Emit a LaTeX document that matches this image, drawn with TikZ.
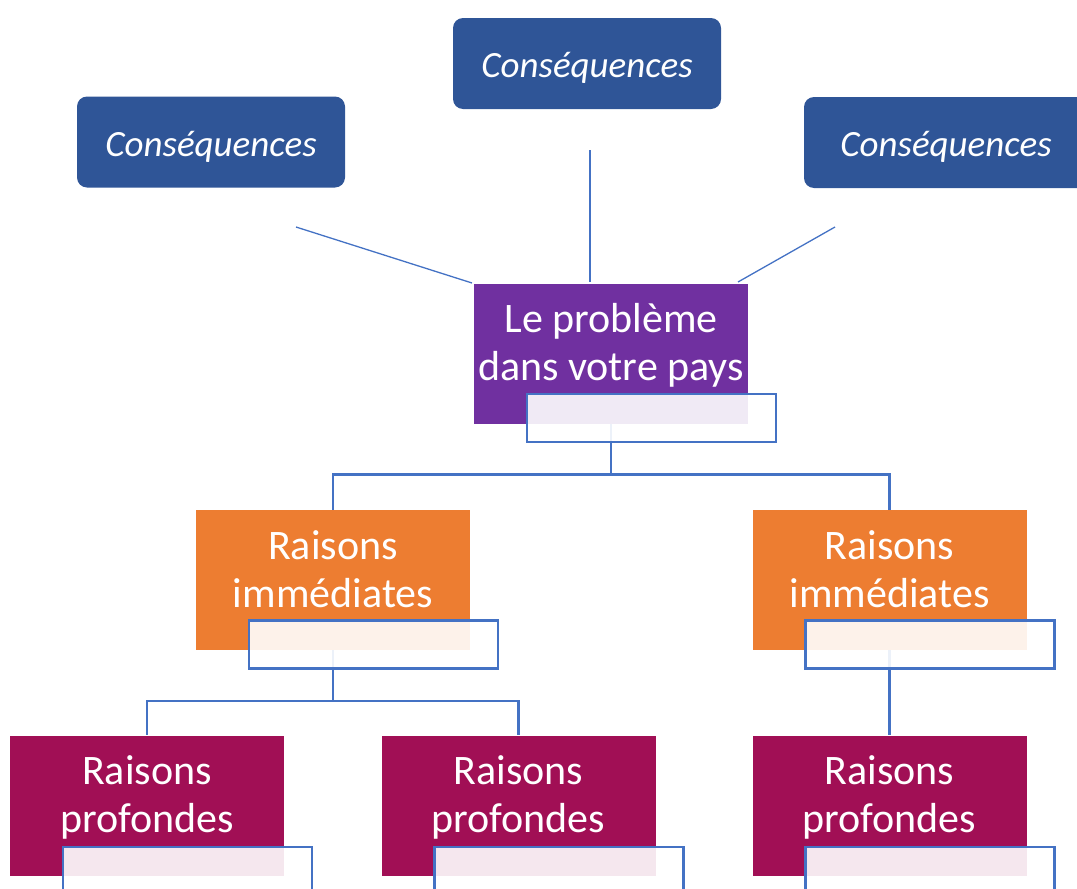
\documentclass[tikz,border=0pt]{standalone}
\usepackage{fontspec}
\setmainfont{Carlito}
\usepackage{xcolor}
\usepackage{tikz}

\definecolor{consblue}{HTML}{2F5597}
\definecolor{probpurple}{HTML}{7030A0}
\definecolor{immorange}{HTML}{ED7D31}
\definecolor{profberry}{HTML}{A10F55}
\definecolor{linkblue}{HTML}{4472C4}

\begin{document}
\begin{tikzpicture}[
    x=1pt, y=-1pt,
    conseq/.style={rectangle, fill=consblue, rounded corners=10pt, minimum width=268pt, minimum height=91pt, inner sep=0pt, text height=35pt, text depth=7pt, text=white, font=\fontsize{37}{42}\selectfont\itshape},
    level/.style={rectangle, minimum width=274pt, minimum height=140pt, inner sep=0pt, text height=64pt, text depth=10pt, text=white, align=center, font=\fontsize{42}{48}\selectfont},
    notebox/.style={rectangle, draw=linkblue, line width=2.5pt, fill=white, fill opacity=0.9, minimum width=249pt, minimum height=48pt, inner sep=0pt, anchor=north east},
    thinlink/.style={draw=linkblue, line width=1.3pt},
    elbow/.style={draw=linkblue, line width=2.5pt}
]
\useasboundingbox (0,0) rectangle (1077,889);
\clip (0,0) rectangle (1077,889);

% consequences
\node[conseq] (cons1) at (211,142) {Conséquences};
\node[conseq] (cons2) at (587,63.5) {Conséquences};
\node[conseq, minimum width=284pt] (cons3) at (946,142.5) {Conséquences};

\coordinate (c1a) at (296,227);
\coordinate (c1b) at (472,283);
\coordinate (c2a) at (590,150);
\coordinate (c2b) at (590,282);
\coordinate (c3a) at (835,227);
\coordinate (c3b) at (738,282);
\draw[thinlink] (c1a) -- (c1b);
\draw[thinlink] (c2a) -- (c2b);
\draw[thinlink] (c3a) -- (c3b);

% levels
\node[level, fill=probpurple] (prob) at (611,353.5) {Le problème\\dans votre pays};
\node[level, fill=immorange] (imm1) at (333,580) {Raisons\\immédiates};
\node[level, fill=immorange] (imm2) at (889.5,580) {Raisons\\immédiates};
\node[level, fill=profberry] (prof1) at (147,805.5) {Raisons\\profondes};
\node[level, fill=profberry] (prof2) at (518.5,805.5) {Raisons\\profondes};
\node[level, fill=profberry] (prof3) at (889.5,805.5) {Raisons\\profondes};

% connectors
\draw[elbow] (prob.south) -- ++(0,51) -| (imm1.north);
\draw[elbow] (prob.south) -- ++(0,51) -| (imm2.north);
\draw[elbow] (imm1.south) -- ++(0,51) -| (prof1.north);
\draw[elbow] (imm1.south) -- ++(0,51) -| (prof2.north);
\draw[elbow] (imm2.south) -- (prof3.north);

% text boxes
\node[notebox] (note0) at ([shift={(29pt,31pt)}]prob.south east) {};
\node[notebox] (note1) at ([shift={(29pt,31pt)}]imm1.south east) {};
\node[notebox] (note2) at ([shift={(29pt,31pt)}]imm2.south east) {};
\node[notebox] (note3) at ([shift={(29pt,30pt)}]prof1.south east) {};
\node[notebox] (note4) at ([shift={(29pt,30pt)}]prof2.south east) {};
\node[notebox] (note5) at ([shift={(29pt,30pt)}]prof3.south east) {};
\end{tikzpicture}
\end{document}
